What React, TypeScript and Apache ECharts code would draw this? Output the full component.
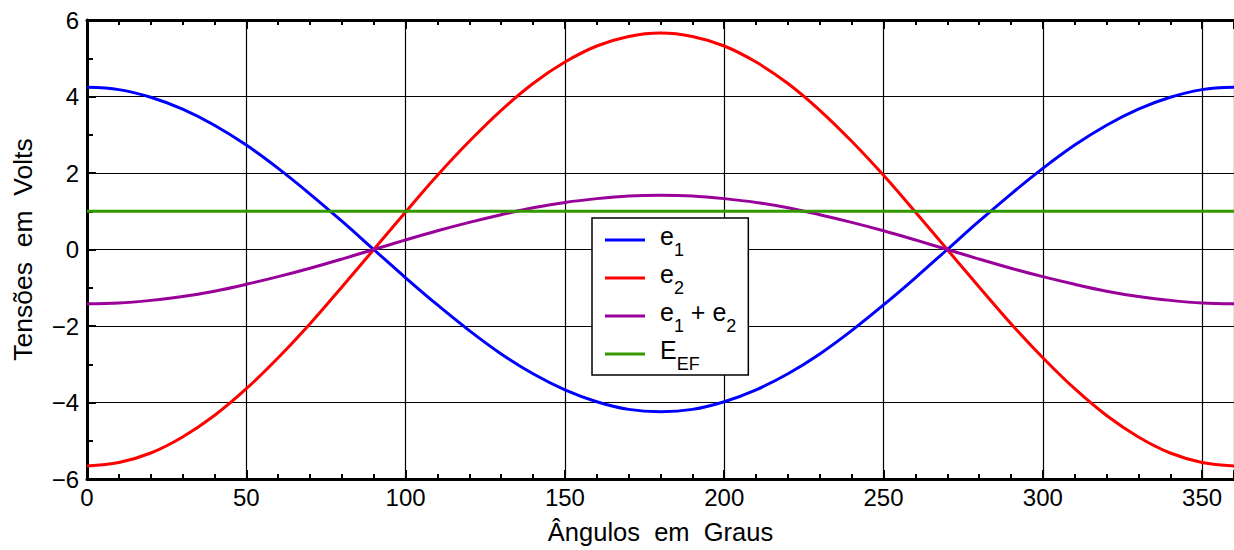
import React, { useEffect, useRef } from "react";
import * as echarts from "echarts";

const angles = [0, 10, 20, 30, 40, 50, 60, 70, 80, 90, 100, 110, 120, 130, 140, 150, 160, 170, 180, 190, 200, 210, 220, 230, 240, 250, 260, 270, 280, 290, 300, 310, 320, 330, 340, 350, 360];
const e1 = [4.24, 4.18, 3.98, 3.67, 3.25, 2.73, 2.12, 1.45, 0.74, 0, -0.74, -1.45, -2.12, -2.73, -3.25, -3.67, -3.98, -4.18, -4.24, -4.18, -3.98, -3.67, -3.25, -2.73, -2.12, -1.45, -0.74, 0, 0.74, 1.45, 2.12, 2.73, 3.25, 3.67, 3.98, 4.18, 4.24];
const e2 = [-5.66, -5.57, -5.32, -4.9, -4.34, -3.64, -2.83, -1.94, -0.98, 0, 0.98, 1.94, 2.83, 3.64, 4.34, 4.9, 5.32, 5.57, 5.66, 5.57, 5.32, 4.9, 4.34, 3.64, 2.83, 1.94, 0.98, 0, -0.98, -1.94, -2.83, -3.64, -4.34, -4.9, -5.32, -5.57, -5.66];
const eSum = [-1.42, -1.4, -1.33, -1.23, -1.09, -0.91, -0.71, -0.49, -0.25, 0, 0.25, 0.49, 0.71, 0.91, 1.09, 1.23, 1.33, 1.4, 1.42, 1.4, 1.33, 1.23, 1.09, 0.91, 0.71, 0.49, 0.25, 0, -0.25, -0.49, -0.71, -0.91, -1.09, -1.23, -1.33, -1.4, -1.42];
const eEF = [1, 1, 1, 1, 1, 1, 1, 1, 1, 1, 1, 1, 1, 1, 1, 1, 1, 1, 1, 1, 1, 1, 1, 1, 1, 1, 1, 1, 1, 1, 1, 1, 1, 1, 1, 1, 1];

const seriesNames = ["e1", "e2", "e1 + e2", "EEF"];
const legendRich = ["{n|e}{s|1}", "{n|e}{s|2}", "{n|e}{s|1}{n| + e}{s|2}", "{n|E}{s|EF}"];
const colors = ["#0000ff", "#ff0000", "#990099", "#339900"];
const xLabel = "Ângulos  em  Graus";
const yLabel = "Tensões  em  Volts";

const FONT = "'Liberation Sans', Arial, Helvetica, sans-serif";

export default function App() {
  const ref = useRef<HTMLDivElement>(null);
  useEffect(() => {
    if (!ref.current) return;
    const chart = echarts.init(ref.current, undefined, { renderer: "svg" });
    const pairs = (ys: number[]) => angles.map((a, i) => [a, ys[i]]);
    const datasets = [e1, e2, eSum, eEF];
    const axisCommon = {
      type: "value" as const,
      min: 0,
      max: 360,
      interval: 50,
      axisLine: { show: true, onZero: false, lineStyle: { color: "#000", width: 3 } },
      axisTick: { show: true, inside: true, length: 9, lineStyle: { color: "#000", width: 2 } },
      minorTick: { show: true, splitNumber: 5, length: 5, lineStyle: { color: "#000", width: 2 } },
    };
    chart.setOption({
      animation: false,
      backgroundColor: "#fff",
      textStyle: { fontFamily: FONT },
      grid: { left: 87, top: 20, width: 1156, height: 463, containLabel: false },
      legend: {
        orient: "vertical",
        left: 592,
        top: 218,
        data: seriesNames,
        backgroundColor: "#fff",
        borderColor: "#000",
        borderWidth: 1.5,
        borderRadius: 0,
        padding: [3, 12, 2, 13],
        itemGap: 0,
        itemWidth: 40,
        itemHeight: 3,
        icon: "rect",
        formatter: (name: string) => legendRich[seriesNames.indexOf(name)],
        textStyle: {
          color: "#000",
          fontFamily: FONT,
          padding: [0, 0, 0, 10],
          rich: {
            n: { fontSize: 25, lineHeight: 38, height: 29, verticalAlign: "top", color: "#000", fontFamily: FONT },
            s: { fontSize: 18, lineHeight: 18, height: 18, verticalAlign: "bottom", color: "#000", fontFamily: FONT },
          },
        },
      },
      xAxis: [
        {
          ...axisCommon,
          position: "bottom",
          name: xLabel,
          nameLocation: "middle",
          nameGap: 40,
          nameTextStyle: { fontSize: 25.5, color: "#000", fontFamily: FONT },
          axisLabel: { show: true, fontSize: 24, color: "#000", margin: 6, fontFamily: FONT, showMaxLabel: false },
          splitLine: { show: true, lineStyle: { color: "#000", width: 1.2 } },
        },
        {
          ...axisCommon,
          position: "top",
          axisLabel: { show: false },
          splitLine: { show: false },
        },
      ],
      yAxis: {
        type: "value",
        min: -6,
        max: 6,
        interval: 2,
        name: yLabel,
        nameLocation: "middle",
        nameGap: 51,
        nameTextStyle: { fontSize: 26.5, color: "#000", fontFamily: FONT },
        axisLine: { show: true, onZero: false, lineStyle: { color: "#000", width: 3 } },
        axisTick: { show: true, inside: true, length: 9, lineStyle: { color: "#000", width: 2 } },
        minorTick: { show: true, splitNumber: 2, length: 6, lineStyle: { color: "#000", width: 2 } },
        axisLabel: {
          fontSize: 24,
          color: "#000",
          margin: 8,
          fontFamily: FONT,
          formatter: (v: number) => String(v).replace("-", "\u2212"),
        },
        splitLine: { show: true, lineStyle: { color: "#000", width: 1.2 } },
      },
      series: datasets.map((d, i) => ({
        name: seriesNames[i],
        type: "line",
        xAxisIndex: 0,
        data: pairs(d),
        smooth: i === 3 ? false : 0.35,
        showSymbol: false,
        symbol: "none",
        color: colors[i],
        lineStyle: { color: colors[i], width: 3 },
        z: 3,
      })),
    });
    return () => chart.dispose();
  }, []);
  return <div ref={ref} style={{ position: "fixed", left: 0, top: 0, width: 1234, height: 550 }} />;
}
